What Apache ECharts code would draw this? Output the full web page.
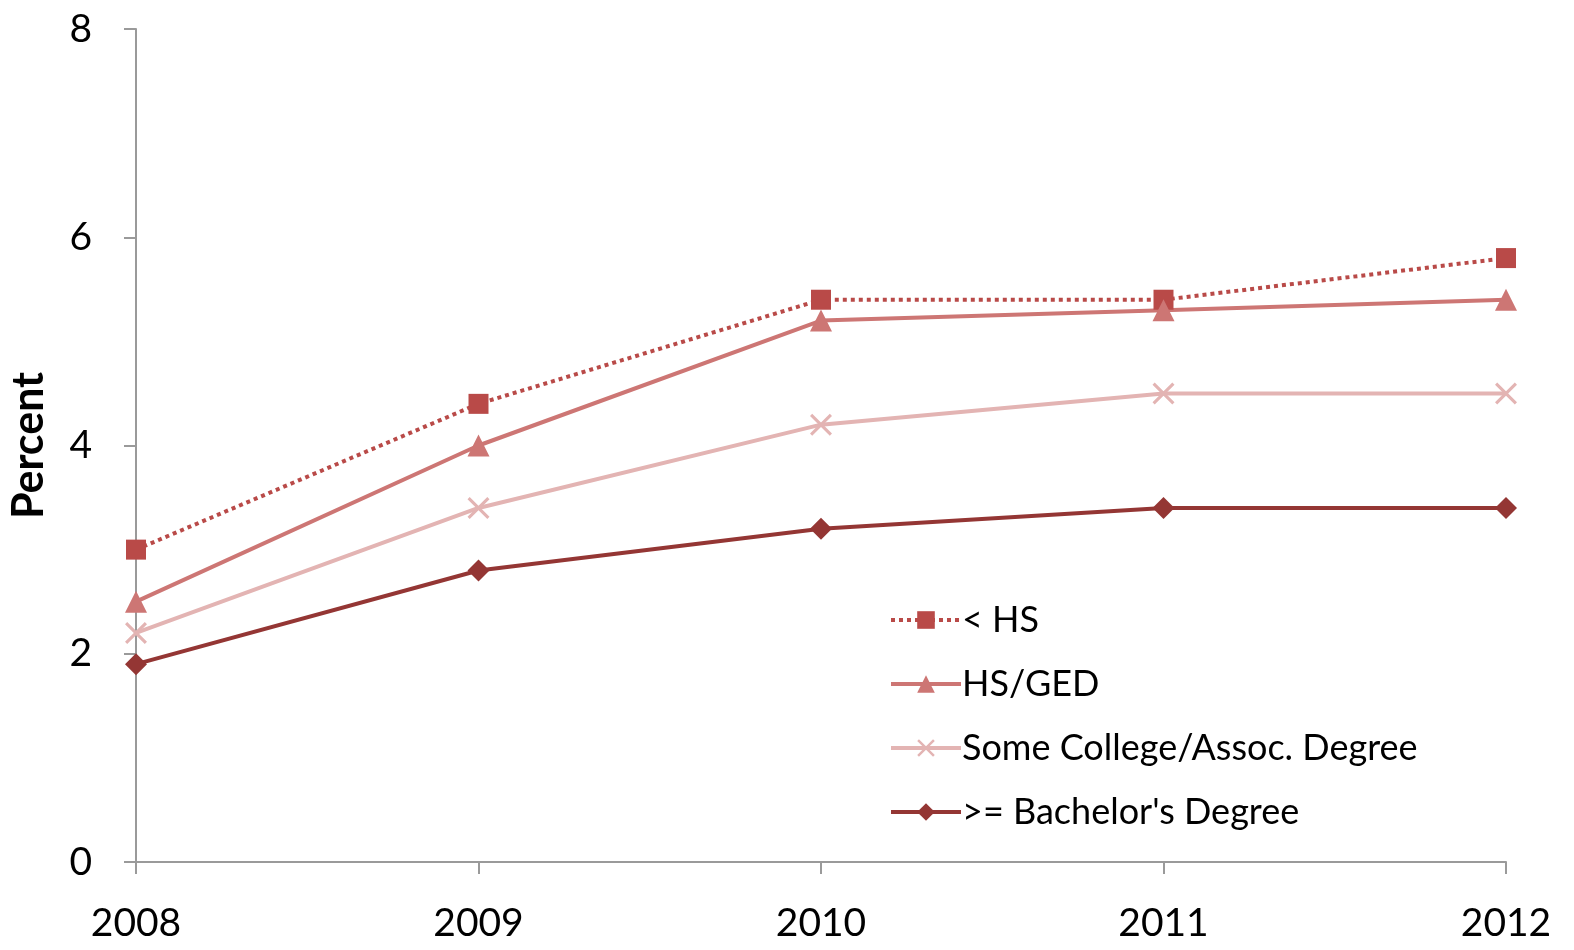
<!DOCTYPE html>
<html>
<head>
<meta charset="utf-8">
<script src="https://cdn.jsdelivr.net/npm/echarts@6/dist/echarts.min.js"></script>
<style>
  html, body { margin: 0; padding: 0; background: #fff; }
  #chart { width: 1574px; height: 950px; }
</style>
</head>
<body>
<div id="chart"></div>
<script>
const years = ['2008', '2009', '2010', '2011', '2012']
const lessHS = [3.0, 4.4, 5.4, 5.4, 5.8]
const hsGed = [2.5, 4.0, 5.2, 5.3, 5.4]
const someCollege = [2.2, 3.4, 4.2, 4.5, 4.5]
const bachelor = [1.9, 2.8, 3.2, 3.4, 3.4]
const yTicks = [0, 2, 4, 6, 8]

const font = 'Lato, "Open Sans", sans-serif'
const xMark = 'path://M0,1 L1,0 L5,4 L9,0 L10,1 L6,5 L10,9 L9,10 L5,6 L1,10 L0,9 L4,5 Z'

const c = echarts.init(document.getElementById('chart'))
c.setOption({
  animation: false,
  grid: { left: 135, right: 68, top: 29, bottom: 88 },
  legend: {
    orient: 'vertical',
    left: 884, top: 597,
    itemWidth: 70, itemHeight: 22, itemGap: 28,
    lineStyle: { width: 4 },
    textStyle: { fontFamily: font, fontSize: 36, color: '#000', padding: [0, 0, 0, -4] },
    data: ['< HS', 'HS/GED', 'Some College/Assoc. Degree', ">= Bachelor's Degree"]
  },
  xAxis: {
    type: 'category', data: years, boundaryGap: false,
    axisLine: { lineStyle: { color: '#9a9a9a', width: 2 } },
    axisTick: { length: 12, lineStyle: { color: '#9a9a9a', width: 2 } },
    axisLabel: { fontFamily: font, fontSize: 39, color: '#000', margin: 42 }
  },
  yAxis: {
    type: 'value', min: 0, max: 8, interval: 2,
    name: 'Percent', nameLocation: 'middle', nameGap: 85, nameRotate: 90,
    nameTextStyle: { fontFamily: font, fontSize: 43, fontWeight: 'bold', color: '#000' },
    splitLine: { show: false },
    axisLine: { show: true, lineStyle: { color: '#9a9a9a', width: 2 } },
    axisTick: { show: true, length: 12, lineStyle: { color: '#9a9a9a', width: 2 } },
    axisLabel: {
      fontFamily: font, fontSize: 39, color: '#000', margin: 44,
      formatter: v => yTicks.includes(v) ? String(v) : ''
    }
  },
  series: [
    {
      name: '< HS', type: 'line', data: lessHS,
      symbol: 'rect', symbolSize: 20,
      lineStyle: { width: 4, type: 'dotted', color: '#b94a48' },
      itemStyle: { color: '#b94a48' }
    },
    {
      name: 'HS/GED', type: 'line', data: hsGed,
      symbol: 'triangle', symbolSize: 22,
      lineStyle: { width: 4, color: '#cd7674' },
      itemStyle: { color: '#cd7674' }
    },
    {
      name: 'Some College/Assoc. Degree', type: 'line', data: someCollege,
      symbol: xMark, symbolSize: 22,
      lineStyle: { width: 4, color: '#e3b4b3' },
      itemStyle: { color: '#e3b4b3' }
    },
    {
      name: ">= Bachelor's Degree", type: 'line', data: bachelor,
      symbol: 'diamond', symbolSize: 22,
      lineStyle: { width: 4, color: '#943634' },
      itemStyle: { color: '#943634' }
    }
  ]
})
window.addEventListener('resize', () => c.resize())
</script>
</body>
</html>
